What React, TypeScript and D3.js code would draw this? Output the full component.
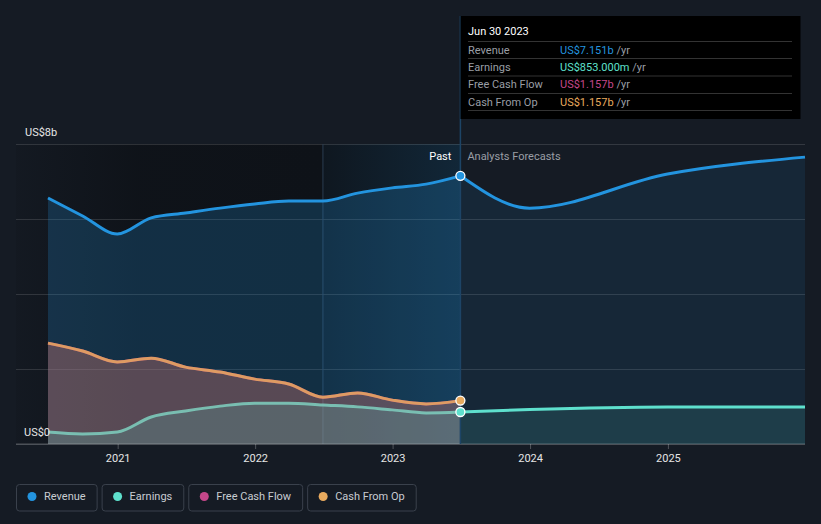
import React from "react";
import * as d3 from "d3";

// quarterly reported figures, US$ billions
const pastDates = [
    "2020-06-30", "2020-09-30", "2020-12-31", "2021-03-31", "2021-06-30",
    "2021-09-30", "2021-12-31", "2022-03-31", "2022-06-30", "2022-09-30",
    "2022-12-31", "2023-03-31", "2023-06-30",
];
const revenuePast = [6.56, 6.08, 5.6, 6.03, 6.16, 6.29, 6.4, 6.48, 6.48, 6.69, 6.83, 6.93, 7.151];
const earningsPast = [0.32, 0.27, 0.32, 0.72, 0.88, 1.01, 1.09, 1.09, 1.04, 0.99, 0.91, 0.83, 0.853];
const fcfPast = [2.69, 2.48, 2.19, 2.29, 2.05, 1.92, 1.73, 1.6, 1.25, 1.36, 1.17, 1.07, 1.157];
const cfoPast = [2.69, 2.48, 2.19, 2.29, 2.05, 1.92, 1.73, 1.6, 1.25, 1.36, 1.17, 1.07, 1.157];

// analyst forecasts
const forecastDates = ["2023-06-30", "2023-12-31", "2024-12-31", "2025-12-31"];
const revenueForecast = [7.151, 6.29, 7.2, 7.65];
const earningsForecast = [0.853, 0.92, 0.99, 0.99];

const yTicks = [0, 2, 4, 6, 8];
const xTickYears = [2021, 2022, 2023, 2024, 2025];

const legendNames = ["Revenue", "Earnings", "Free Cash Flow", "Cash From Op"];
const legendColors = ["#2394df", "#5ee0cd", "#c4478a", "#e8aa5e"];
const tooltipTitle = "Jun 30 2023";
const tooltipValues = ["US$7.151b", "US$853.000m", "US$1.157b", "US$1.157b"];

const W = 821;
const H = 524;
const FONT = "Roboto, 'Noto Sans', sans-serif";

const App = () => {
    const svgRef = React.useRef(null);

    React.useEffect(() => {
        const parse = d3.timeParse("%Y-%m-%d");
        const past = pastDates.map((d, i) => ({
            date: parse(d), rev: revenuePast[i], earn: earningsPast[i], fcf: fcfPast[i], cfo: cfoPast[i],
        }));
        const fut = forecastDates.map((d, i) => ({ date: parse(d), rev: revenueForecast[i], earn: earningsForecast[i] }));
        const nowDate = parse(pastDates[pastDates.length - 1]);
        const yearAgo = parse("2022-06-30");

        const x = d3.scaleTime().domain([parse(pastDates[0]), parse(forecastDates[forecastDates.length - 1])]).range([48, 805]);
        const y = d3.scaleLinear().domain([0, 8]).range([444, 144]);
        const gridLeft = 16;
        const gridRight = 805;

        const svgEl = d3.select(svgRef.current);
        svgEl.selectAll("*").remove();
        svgEl.append("rect").attr("width", W).attr("height", H).attr("fill", "#151b24");

        const defs = svgEl.append("defs");
        const darkGrad = defs.append("linearGradient").attr("id", "darkPast").attr("x1", 0).attr("x2", 1);
        darkGrad.append("stop").attr("offset", 0).attr("stop-color", "#0e1218").attr("stop-opacity", 0.2);
        darkGrad.append("stop").attr("offset", 0.4).attr("stop-color", "#0e1218").attr("stop-opacity", 0.9);
        darkGrad.append("stop").attr("offset", 1).attr("stop-color", "#0e1218").attr("stop-opacity", 1);
        const hiGrad = defs.append("linearGradient").attr("id", "hiYear").attr("x1", 0).attr("x2", 1);
        hiGrad.append("stop").attr("offset", 0).attr("stop-color", "#2394df").attr("stop-opacity", 0.04);
        hiGrad.append("stop").attr("offset", 1).attr("stop-color", "#2394df").attr("stop-opacity", 0.16);

        // past backdrop and last-year highlight
        svgEl.append("rect").attr("x", gridLeft).attr("y", y(8)).attr("width", x(yearAgo) - gridLeft)
            .attr("height", y(0) - y(8)).attr("fill", "url(#darkPast)");
        svgEl.append("rect").attr("x", x(yearAgo)).attr("y", y(8)).attr("width", x(nowDate) - x(yearAgo))
            .attr("height", y(0) - y(8)).attr("fill", "#0e1218");
        svgEl.append("rect").attr("x", x(yearAgo)).attr("y", y(8)).attr("width", x(nowDate) - x(yearAgo))
            .attr("height", y(0) - y(8)).attr("fill", "url(#hiYear)");

        // grid
        const yg = svgEl.append("g").attr("transform", `translate(${gridRight},0)`)
            .call(d3.axisRight(y).tickValues(yTicks).tickSize(-(gridRight - gridLeft)).tickFormat(() => ""));
        yg.select(".domain").remove();
        yg.selectAll("line").attr("stroke", "#ffffff").attr("stroke-opacity", 0.13);

        svgEl.append("line").attr("x1", x(yearAgo)).attr("x2", x(yearAgo)).attr("y1", y(8)).attr("y2", y(0))
            .attr("stroke", "#2b3d50").attr("stroke-width", 1);

        // areas and lines
        const curve = d3.curveMonotoneX;
        const area = (key) => d3.area().x((d) => x(d.date)).y0(y(0)).y1((d) => y(d[key])).curve(curve);
        const line = (key) => d3.line().x((d) => x(d.date)).y((d) => y(d[key])).curve(curve);

        svgEl.append("path").datum(past).attr("d", area("rev")).attr("fill", "#2394df").attr("fill-opacity", 0.22);
        svgEl.append("path").datum(fut).attr("d", area("rev")).attr("fill", "#2394df").attr("fill-opacity", 0.1);
        svgEl.append("path").datum(past).attr("d", area("fcf")).attr("fill", "#c4478a").attr("fill-opacity", 0.22);
        svgEl.append("path").datum(past).attr("d", area("cfo")).attr("fill", "#e8aa5e").attr("fill-opacity", 0.18);
        svgEl.append("path").datum(past).attr("d", area("earn")).attr("fill", "#5ee0cd").attr("fill-opacity", 0.18);
        svgEl.append("path").datum(fut).attr("d", area("earn")).attr("fill", "#5ee0cd").attr("fill-opacity", 0.12);

        const drawLine = (data, key, color, op) =>
            svgEl.append("path").datum(data).attr("d", line(key)).attr("fill", "none")
                .attr("stroke", color).attr("stroke-width", 3).attr("stroke-opacity", op);
        drawLine(past, "rev", legendColors[0], 1);
        drawLine(fut, "rev", legendColors[0], 1);
        drawLine(past, "fcf", legendColors[2], 0.8);
        drawLine(past, "cfo", legendColors[3], 0.85);
        drawLine(past, "earn", "#7fd0c0", 0.85);
        drawLine(fut, "earn", legendColors[1], 1);

        // baseline and x ticks
        svgEl.append("line").attr("x1", gridLeft).attr("x2", gridRight).attr("y1", y(0)).attr("y2", y(0))
            .attr("stroke", "#ffffff").attr("stroke-opacity", 0.25);
        const xg = svgEl.append("g").attr("transform", `translate(0,${y(0)})`)
            .call(d3.axisBottom(x).tickValues(xTickYears.map((yr) => new Date(yr, 0, 1))).tickSize(5).tickPadding(5).tickFormat(d3.timeFormat("%Y")));
        xg.select(".domain").remove();
        xg.selectAll("line").attr("stroke", "#ffffff").attr("stroke-opacity", 0.25);
        xg.selectAll("text").attr("fill", "#e6e6e6").attr("font-size", 11).attr("font-family", FONT);

        // y labels
        svgEl.append("text").attr("x", 25).attr("y", 136).text("US$8b")
            .attr("fill", "#e6e6e6").attr("font-size", 11).attr("font-family", FONT);
        svgEl.append("text").attr("x", 24).attr("y", 436).text("US$0")
            .attr("fill", "#e6e6e6").attr("font-size", 11).attr("font-family", FONT);

        // now line
        svgEl.append("line").attr("x1", x(nowDate)).attr("x2", x(nowDate)).attr("y1", 16).attr("y2", y(0))
            .attr("stroke", "#1d4466").attr("stroke-width", 1.5);

        svgEl.append("text").attr("x", x(nowDate) - 9).attr("y", 160).attr("text-anchor", "end").text("Past")
            .attr("fill", "#ffffff").attr("font-size", 11).attr("font-family", FONT);
        svgEl.append("text").attr("x", x(nowDate) + 7).attr("y", 160).text("Analysts Forecasts")
            .attr("fill", "#9a9ea5").attr("font-size", 11).attr("font-family", FONT);

        // end markers
        const last = past[past.length - 1];
        [["cfo", legendColors[3]], ["earn", legendColors[1]], ["rev", legendColors[0]]].forEach(([k, c]) => {
            svgEl.append("circle").attr("cx", x(last.date)).attr("cy", y(last[k])).attr("r", 4.5)
                .attr("fill", c).attr("stroke", "#ffffff").attr("stroke-width", 1.3);
        });

        // tooltip
        const tip = svgEl.append("g");
        tip.append("rect").attr("x", 460.5).attr("y", 16).attr("width", 340).attr("height", 103).attr("fill", "#000000");
        tip.append("text").attr("x", 468).attr("y", 35).text(tooltipTitle)
            .attr("fill", "#ffffff").attr("font-size", 11).attr("font-family", FONT);
        const rowY = [41.5, 58.5, 76, 93.5, 110.5];
        rowY.forEach((ry) => {
            tip.append("line").attr("x1", 468).attr("x2", 792).attr("y1", ry).attr("y2", ry)
                .attr("stroke", "#ffffff").attr("stroke-opacity", 0.2);
        });
        legendNames.forEach((name, i) => {
            const by = rowY[i] + 12;
            tip.append("text").attr("x", 468).attr("y", by).text(name)
                .attr("fill", "#9a9ea5").attr("font-size", 11).attr("font-family", FONT);
            const t = tip.append("text").attr("x", 560).attr("y", by).attr("font-size", 11).attr("font-family", FONT);
            t.append("tspan").text(tooltipValues[i]).attr("fill", legendColors[i]);
            t.append("tspan").text(" /yr").attr("fill", "#9a9ea5");
        });

        // legend
        let lx = 16.5;
        legendNames.forEach((name, i) => {
            const g = svgEl.append("g");
            const label = g.append("text").attr("x", lx + 27.5).attr("y", 500).text(name)
                .attr("fill", "#c8ccd2").attr("font-size", 11).attr("font-family", FONT);
            const tw = label.node().getComputedTextLength();
            const bw = tw + 27.5 + 11.5;
            g.insert("rect", "text").attr("x", lx).attr("y", 484.5).attr("width", bw).attr("height", 26.5)
                .attr("rx", 3).attr("fill", "none").attr("stroke", "#3a414c");
            g.append("circle").attr("cx", lx + 15.5).attr("cy", 496.5).attr("r", 4.5).attr("fill", legendColors[i]);
            lx += bw + 5;
        });
    }, []);

    return (
        <svg ref={svgRef} width={W} height={H} viewBox={`0 0 ${W} ${H}`}
            style={{ position: "absolute", left: 0, top: 0, display: "block" }} />
    );
};

export default App;
